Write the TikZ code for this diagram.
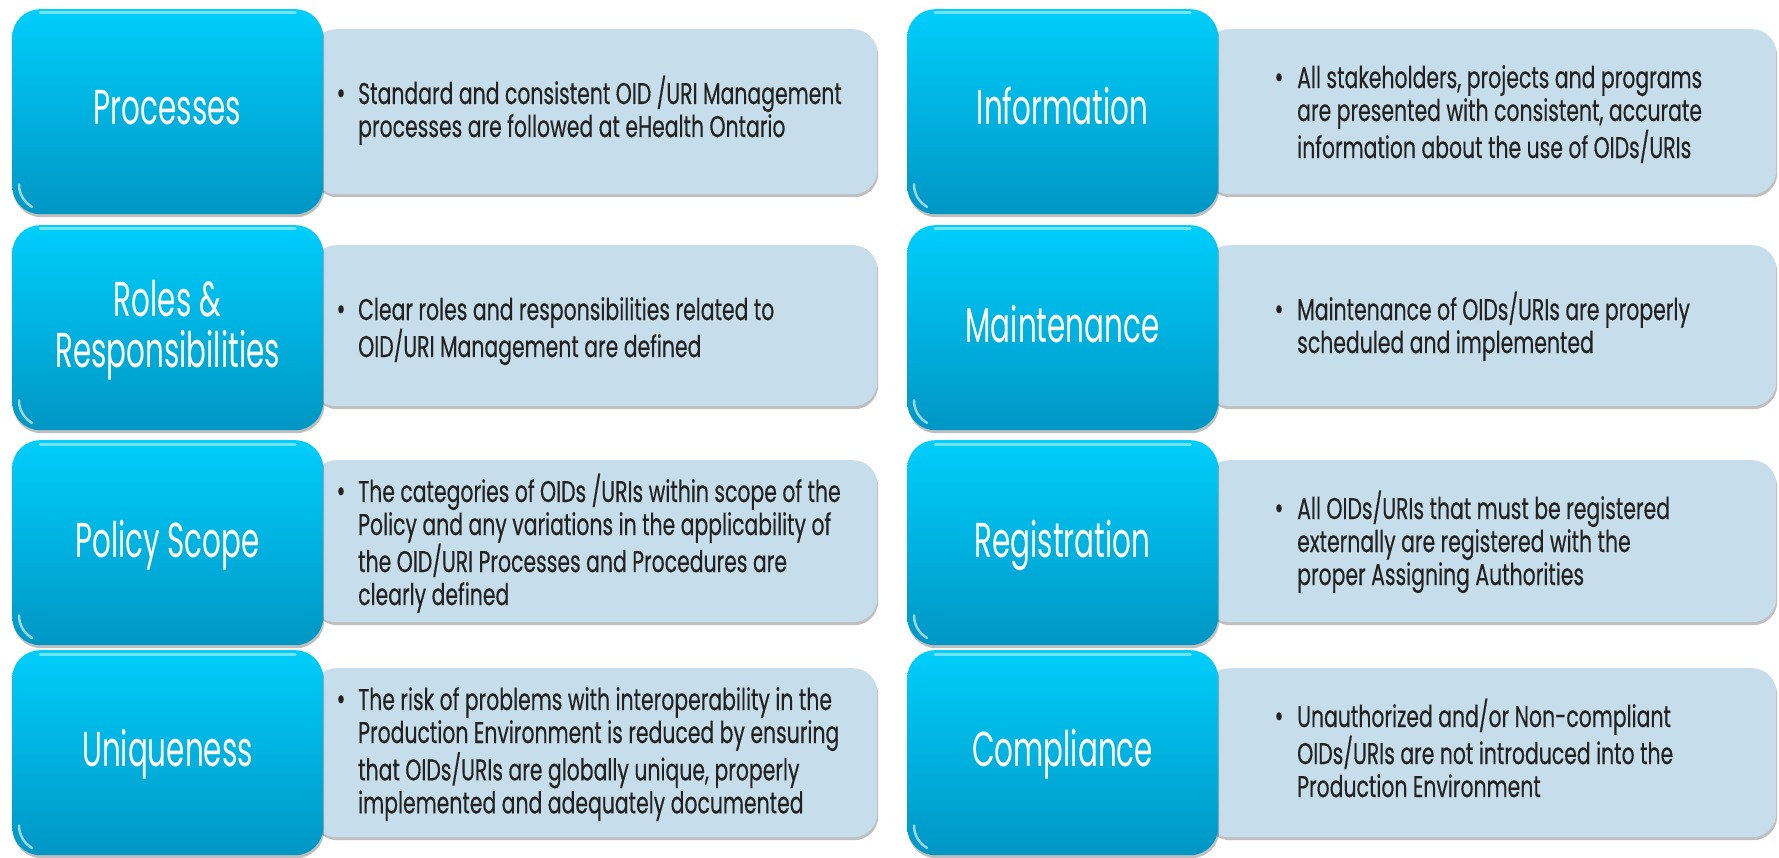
\documentclass[tikz,border=0pt]{standalone}
\usepackage{fontspec}
\setmainfont{Poppins}
\newfontfamily\titlefont[FakeStretch=0.60]{Poppins}
\newfontfamily\bodyfont[FakeStretch=0.68,FakeBold=0.4]{Poppins}
\usetikzlibrary{shadows}
\definecolor{darktop}{RGB}{0,206,252}
\definecolor{darkbot}{RGB}{0,150,196}
\definecolor{lightfill}{RGB}{198,222,235}
\definecolor{txtcol}{RGB}{34,34,34}
\newcommand{\tl}[1]{\vtop{\halign{##\hfil\cr#1\crcr}}}
\newcommand{\tc}[1]{\vtop{\halign{\hfil##\hfil\cr#1\crcr}}}
\tikzset{
  darkbox/.style={rounded corners=28pt, top color=darktop, bottom color=darkbot,
    inner sep=0pt, minimum width=311pt, minimum height=205pt, anchor=north west,
    general shadow={fill=black, opacity=.25, shadow xshift=1pt, shadow yshift=-3pt}},
  lightbox/.style={rounded corners=24pt, fill=lightfill, inner sep=0pt,
    anchor=north west,
    general shadow={fill=black, opacity=.25, shadow xshift=1pt, shadow yshift=-3pt}},
  titletext/.style={text=white, font=\titlefont\fontsize{49}{51}\selectfont,
    anchor=base, inner sep=0pt},
  bodytext/.style={text=txtcol, font=\bodyfont\fontsize{30}{33}\selectfont,
    anchor=base west, inner sep=0pt},
  bulletmark/.style={text=txtcol, font=\bodyfont\fontsize{32}{33}\selectfont,
    anchor=base, inner sep=0pt},
  gloss/.style={white, opacity=.45, line width=3pt, line cap=round}
}
\begin{document}
\begin{tikzpicture}[x=1pt,y=-1pt]
\useasboundingbox (0,0) rectangle (1779,858);
\clip (0,0) rectangle (1779,858);
% ---------- light boxes (behind) ----------
\node[lightbox, minimum width=565pt, minimum height=165pt] (l1) at (312,29) {};
\node[lightbox, minimum width=565pt, minimum height=161pt] (l2) at (312,245) {};
\node[lightbox, minimum width=565pt, minimum height=162pt] (l3) at (312,460) {};
\node[lightbox, minimum width=565pt, minimum height=169pt] (l4) at (312,668) {};
\node[lightbox, minimum width=571pt, minimum height=165pt] (r1) at (1205,29) {};
\node[lightbox, minimum width=571pt, minimum height=161pt] (r2) at (1205,245) {};
\node[lightbox, minimum width=571pt, minimum height=162pt] (r3) at (1205,460) {};
\node[lightbox, minimum width=571pt, minimum height=169pt] (r4) at (1205,668) {};
% ---------- dark boxes ----------
\node[darkbox] (dl1) at (12,9) {};
\node[darkbox] (dl2) at (12,225) {};
\node[darkbox] (dl3) at (12,440) {};
\node[darkbox] (dl4) at (12,650) {};
\node[darkbox] (dr1) at (907,9) {};
\node[darkbox] (dr2) at (907,225) {};
\node[darkbox] (dr3) at (907,440) {};
\node[darkbox] (dr4) at (907,650) {};
% gloss highlights
\foreach \b in {dl1,dl2,dl3,dl4,dr1,dr2,dr3,dr4}{
  \draw[gloss] ([xshift=28pt,yshift=-4pt]\b.north west) -- ([xshift=-28pt,yshift=-4pt]\b.north east);
  \draw[white, opacity=.6, line width=2.5pt, line cap=round]
    ([xshift=7pt,yshift=30pt]\b.south west) arc[start angle=180, end angle=240, radius=26pt];
}
% ---------- titles ----------
\node[titletext] (tl1) at (167.5,125) {Processes};
\node[titletext] (tl2) at (167.5,317) {\tc{Roles \&\cr Responsibilities}};
\node[titletext] (tl3) at (167.5,557) {Policy Scope};
\node[titletext] (tl4) at (167.5,766) {Uniqueness};
\node[titletext] (tr1) at (1062.5,125) {Information};
\node[titletext] (tr2) at (1062.5,342) {Maintenance};
\node[titletext] (tr3) at (1062.5,557) {Registration};
\node[titletext] (tr4) at (1062.5,766) {Compliance};
% ---------- bullets ----------
\node[bulletmark] (bl1) at (341,104) {\textbullet};
\node[bulletmark] (bl2) at (341,320) {\textbullet};
\node[bulletmark] (bl3) at (341,502) {\textbullet};
\node[bulletmark] (bl4) at (341,710) {\textbullet};
\node[bulletmark] (br1) at (1279,88) {\textbullet};
\node[bulletmark] (br2) at (1279,320) {\textbullet};
\node[bulletmark] (br3) at (1279,519) {\textbullet};
\node[bulletmark] (br4) at (1279,727) {\textbullet};
% ---------- body texts ----------
\node[bodytext] (xl1) at (358,104) {\tl{Standard and consistent OID /URI Management\cr processes are followed at eHealth Ontario}};
\node[bodytext] (xl2) at (358,320) {\tl{Clear roles and responsibilities related to\cr OID/URI Management are defined}};
\node[bodytext] (xl3) at (358,502) {\tl{The categories of OIDs /URIs within scope of the\cr Policy and any variations in the applicability of\cr the OID/URI Processes and Procedures are\cr clearly defined}};
\node[bodytext] (xl4) at (358,710) {\tl{The risk of problems with interoperability in the\cr Production Environment is reduced by ensuring\cr that OIDs/URIs are globally unique, properly\cr implemented and adequately documented}};
\node[bodytext] (xr1) at (1297,88) {\tl{All stakeholders, projects and programs\cr are presented with consistent, accurate\cr information about the use of OIDs/URIs}};
\node[bodytext] (xr2) at (1297,320) {\tl{Maintenance of OIDs/URIs are properly\cr scheduled and implemented}};
\node[bodytext] (xr3) at (1297,519) {\tl{All OIDs/URIs that must be registered\cr externally are registered with the\cr proper Assigning Authorities}};
\node[bodytext] (xr4) at (1297,727) {\tl{Unauthorized and/or Non-compliant\cr OIDs/URIs are not introduced into the\cr Production Environment}};
\end{tikzpicture}
\end{document}
